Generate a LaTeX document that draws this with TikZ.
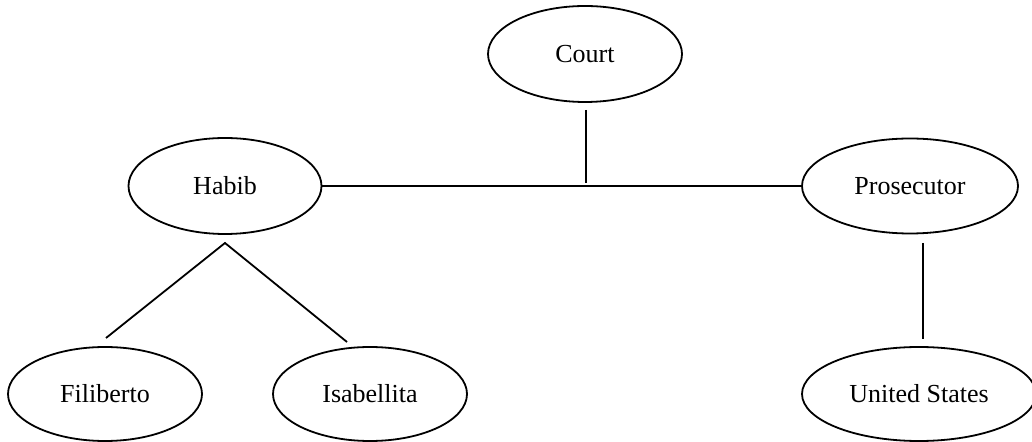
\documentclass[tikz,border=0pt]{standalone}
\usepackage{fontspec}
\setmainfont{Liberation Serif}
\usetikzlibrary{shapes.geometric}
\begin{document}
\begin{tikzpicture}[x=0.5pt,y=-0.5pt,
  party/.style={draw, ellipse, line width=0.9pt, inner sep=0pt, font=\fontsize{13}{15}\selectfont},
  link/.style={line width=0.9pt}]
\useasboundingbox (0,0) rectangle (1032,442);
\node[party, minimum width=97pt, minimum height=48pt] (court) at (585,54) {Court};
\node[party, minimum width=96.5pt, minimum height=48pt] (habib) at (225,186) {Habib};
\node[party, minimum width=108pt, minimum height=47.5pt] (pros) at (910,186) {Prosecutor};
\node[party, minimum width=97pt, minimum height=47pt] (fili) at (105,394) {Filiberto};
\node[party, minimum width=97pt, minimum height=47pt] (isab) at (370,394) {Isabellita};
\node[party, minimum width=117pt, minimum height=47pt] (us) at (919,394) {United States};
\coordinate (ctop) at (586,110);
\coordinate (cbot) at (586,183);
\coordinate (apex) at (225,243);
\coordinate (fend) at (106,338);
\coordinate (iend) at (347,342);
\coordinate (ptop) at (923,243);
\coordinate (pbot) at (923,339);
\draw[link] (habib.east) -- (pros.west);
\draw[link] (ctop) -- (cbot);
\draw[link] (fend) -- (apex) -- (iend);
\draw[link] (ptop) -- (pbot);
\end{tikzpicture}
\end{document}
